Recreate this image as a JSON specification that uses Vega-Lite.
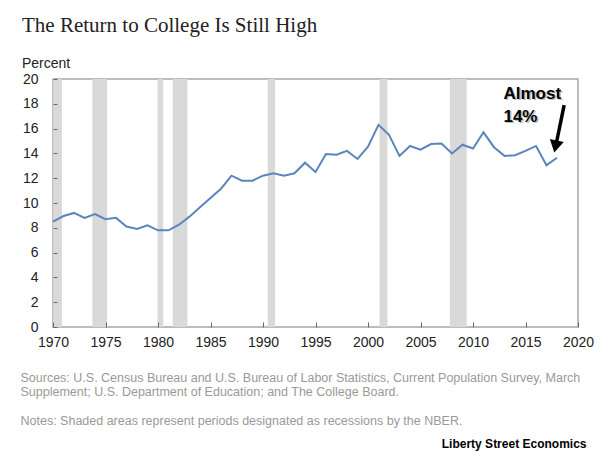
{
  "$schema": "https://vega.github.io/schema/vega-lite/v6.json",
  "width": 525,
  "height": 248,
  "autosize": {"type": "none"},
  "padding": {"left": 53, "top": 79, "right": 34, "bottom": 135},
  "background": "white",
  "title": {
    "text": "The Return to College Is Still High",
    "subtitle": "Percent",
    "anchor": "start",
    "frame": "group",
    "dx": -31,
    "offset": 1,
    "font": "Liberation Serif",
    "fontSize": 21,
    "fontWeight": "normal",
    "color": "#222222",
    "subtitleFont": "Liberation Sans",
    "subtitleFontSize": 14,
    "subtitleColor": "#222222",
    "subtitlePadding": 21
  },
  "datasets": {
    "returns": [
      {"year": 1970, "pct": 8.5}, {"year": 1971, "pct": 8.95}, {"year": 1972, "pct": 9.2},
      {"year": 1973, "pct": 8.8}, {"year": 1974, "pct": 9.1}, {"year": 1975, "pct": 8.7},
      {"year": 1976, "pct": 8.8}, {"year": 1977, "pct": 8.1}, {"year": 1978, "pct": 7.9},
      {"year": 1979, "pct": 8.2}, {"year": 1980, "pct": 7.8}, {"year": 1981, "pct": 7.8},
      {"year": 1982, "pct": 8.25}, {"year": 1983, "pct": 8.9}, {"year": 1984, "pct": 9.65},
      {"year": 1985, "pct": 10.4}, {"year": 1986, "pct": 11.15}, {"year": 1987, "pct": 12.2},
      {"year": 1988, "pct": 11.8}, {"year": 1989, "pct": 11.8}, {"year": 1990, "pct": 12.2},
      {"year": 1991, "pct": 12.4}, {"year": 1992, "pct": 12.2}, {"year": 1993, "pct": 12.4},
      {"year": 1994, "pct": 13.25}, {"year": 1995, "pct": 12.5}, {"year": 1996, "pct": 13.95},
      {"year": 1997, "pct": 13.9}, {"year": 1998, "pct": 14.2}, {"year": 1999, "pct": 13.55},
      {"year": 2000, "pct": 14.55}, {"year": 2001, "pct": 16.3}, {"year": 2002, "pct": 15.5},
      {"year": 2003, "pct": 13.8}, {"year": 2004, "pct": 14.6}, {"year": 2005, "pct": 14.3},
      {"year": 2006, "pct": 14.75}, {"year": 2007, "pct": 14.8}, {"year": 2008, "pct": 14.0},
      {"year": 2009, "pct": 14.7}, {"year": 2010, "pct": 14.4}, {"year": 2011, "pct": 15.7},
      {"year": 2012, "pct": 14.5}, {"year": 2013, "pct": 13.8}, {"year": 2014, "pct": 13.85},
      {"year": 2015, "pct": 14.2}, {"year": 2016, "pct": 14.6}, {"year": 2017, "pct": 13.05},
      {"year": 2018, "pct": 13.65}
    ],
    "recessions": [
      {"start": 1970, "end": 1970.85},
      {"start": 1973.75, "end": 1975.15},
      {"start": 1979.95, "end": 1980.5},
      {"start": 1981.4, "end": 1982.8},
      {"start": 1990.45, "end": 1991.15},
      {"start": 2001.1, "end": 2001.85},
      {"start": 2007.8, "end": 2009.4}
    ],
    "note": [{"year": 2012.9, "pct": 18.4, "label": "Almost\n14%"}],
    "arrow": [{"year": 2018.68, "pct": 17.9, "year2": 2017.98, "pct2": 15.0}],
    "arrowhead": [{"year": 2017.86, "pct": 14.55}]
  },
  "layer": [
    {
      "data": {"name": "recessions"},
      "mark": {"type": "rect", "color": "#d9d9d9"},
      "encoding": {
        "x": {"field": "start", "type": "quantitative"},
        "x2": {"field": "end"}
      }
    },
    {
      "data": {"name": "returns"},
      "mark": {"type": "line", "color": "#5b85bd", "strokeWidth": 2},
      "encoding": {
        "x": {
          "field": "year",
          "type": "quantitative",
          "scale": {"domain": [1970, 2020], "nice": false, "zero": false},
          "axis": {
            "values": [1970, 1975, 1980, 1985, 1990, 1995, 2000, 2005, 2010, 2015, 2020],
            "tickCount": 11,
            "format": "d",
            "grid": false,
            "domain": false,
            "offset": -5,
            "tickSize": 5,
            "tickWidth": 1,
            "tickColor": "#666666",
            "zindex": 1,
            "labelPadding": 8,
            "labelFlush": false,
            "labelFont": "Liberation Sans",
            "labelFontSize": 14,
            "labelColor": "#222222",
            "title": [
              "Sources: U.S. Census Bureau and U.S. Bureau of Labor Statistics, Current Population Survey, March",
              "Supplement; U.S. Department of Education; and The College Board.",
              "\u200b",
              "Notes: Shaded areas represent periods designated as recessions by the NBER."
            ],
            "titleFont": "Liberation Sans",
            "titleFontSize": 12.5,
            "titleFontWeight": "normal",
            "titleColor": "#999999",
            "titleAnchor": "start",
            "titleAlign": "left",
            "titleBaseline": "alphabetic",
            "titleLineHeight": 14.5,
            "titleX": -33,
            "titleY": 59
          }
        },
        "y": {
          "field": "pct",
          "type": "quantitative",
          "scale": {"domain": [0, 20], "nice": false},
          "axis": {
            "values": [0, 2, 4, 6, 8, 10, 12, 14, 16, 18, 20],
            "tickCount": 11,
            "grid": false,
            "domain": false,
            "offset": -4,
            "tickSize": 4,
            "tickWidth": 1,
            "tickColor": "#666666",
            "zindex": 1,
            "labelPadding": 15,
            "labelFlush": false,
            "labelFont": "Liberation Sans",
            "labelFontSize": 14,
            "labelColor": "#222222",
            "title": "Liberty Street Economics",
            "titleAngle": 0,
            "titleAlign": "right",
            "titleBaseline": "alphabetic",
            "titleFont": "Liberation Sans",
            "titleFontSize": 12,
            "titleFontWeight": "bold",
            "titleColor": "#000000",
            "titleX": 529,
            "titleY": 368
          }
        }
      }
    },
    {
      "data": {"name": "note"},
      "mark": {"type": "text", "align": "left", "baseline": "alphabetic", "lineBreak": "\n", "lineHeight": 23, "font": "Liberation Sans", "fontSize": 17, "fontWeight": "bold", "color": "#bbbbbb", "dx": 1.5, "dy": 1.5},
      "encoding": {
        "x": {"field": "year", "type": "quantitative"},
        "y": {"field": "pct", "type": "quantitative"},
        "text": {"field": "label"}
      }
    },
    {
      "data": {"name": "note"},
      "mark": {"type": "text", "align": "left", "baseline": "alphabetic", "lineBreak": "\n", "lineHeight": 23, "font": "Liberation Sans", "fontSize": 17, "fontWeight": "bold", "color": "#000000"},
      "encoding": {
        "x": {"field": "year", "type": "quantitative"},
        "y": {"field": "pct", "type": "quantitative"},
        "text": {"field": "label"}
      }
    },
    {
      "data": {"name": "arrow"},
      "mark": {"type": "rule", "color": "#000000", "strokeWidth": 3.5},
      "encoding": {
        "x": {"field": "year", "type": "quantitative"},
        "y": {"field": "pct", "type": "quantitative"},
        "x2": {"field": "year2"},
        "y2": {"field": "pct2"}
      }
    },
    {
      "data": {"name": "arrowhead"},
      "mark": {"type": "point", "shape": "triangle-down", "filled": true, "color": "#000000", "opacity": 1, "size": 200, "angle": 12},
      "encoding": {
        "x": {"field": "year", "type": "quantitative"},
        "y": {"field": "pct", "type": "quantitative"}
      }
    }
  ],
  "config": {
    "view": {"stroke": "#a6a6a6", "strokeWidth": 1.5},
    "axis": {"labelOverlap": false}
  }
}
